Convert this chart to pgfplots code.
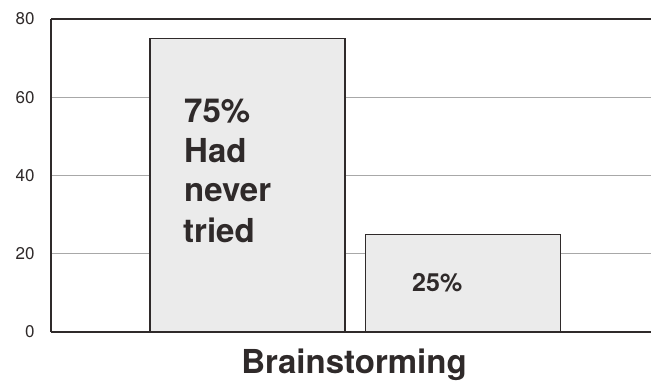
\documentclass[border=0pt]{standalone}
\usepackage{fontspec}
\setmainfont{TeX Gyre Heros}
\usepackage{pgfplots}
\pgfplotsset{compat=1.18}
\definecolor{barfill}{HTML}{EBEBEB}
\definecolor{darkline}{HTML}{2F2A2A}
\definecolor{gridc}{HTML}{A8A8A8}
\begin{document}
\begin{tikzpicture}
\begin{axis}[
  scale only axis,
  width=600pt, height=313pt,
  xmin=0, xmax=600,
  ymin=0, ymax=80,
  axis x line=box,
  axis y line=left,
  x axis line style={line width=2.2pt, color=darkline, -},
  y axis line style={line width=2pt, color=darkline, -},
  xtick=\empty,
  ytick={0,20,40,60,80},
  major tick length=0pt,
  ymajorgrids,
  grid style={gridc, line width=0.9pt},
  /pgf/number format/assume math mode=true,
  yticklabel style={font=\fontsize{17}{17}\selectfont, xshift=-13pt, text=darkline},
  xlabel={\textbf{Brainstorming}},
  xlabel style={font=\fontsize{33}{33}\selectfont, anchor=base, at={(axis description cs:0.505,0)}, yshift=-42pt, text=darkline},
  ybar, bar width=195,
  clip=false,
]
\addplot[fill=barfill, draw=darkline, line width=1.2pt] coordinates {(196.5,75) (412,25)};
\node[anchor=base west, inner sep=0, font=\fontsize{33}{33}\selectfont\bfseries, text=darkline] at (axis cs:133,53.67) {75\%};
\node[anchor=base west, inner sep=0, font=\fontsize{33}{33}\selectfont\bfseries, text=darkline] at (axis cs:133,43.45) {Had};
\node[anchor=base west, inner sep=0, font=\fontsize{33}{33}\selectfont\bfseries, text=darkline] at (axis cs:133,33.23) {never};
\node[anchor=base west, inner sep=0, font=\fontsize{33}{33}\selectfont\bfseries, text=darkline] at (axis cs:132,22.75) {tried};
\node[anchor=base west, inner sep=0, font=\fontsize{25}{25}\selectfont\bfseries, text=darkline] at (axis cs:361,10.3) {25\%};
\end{axis}
\pgfresetboundingbox
\path (-51pt,-55pt) rectangle (600pt,332pt);
\end{tikzpicture}
\end{document}
